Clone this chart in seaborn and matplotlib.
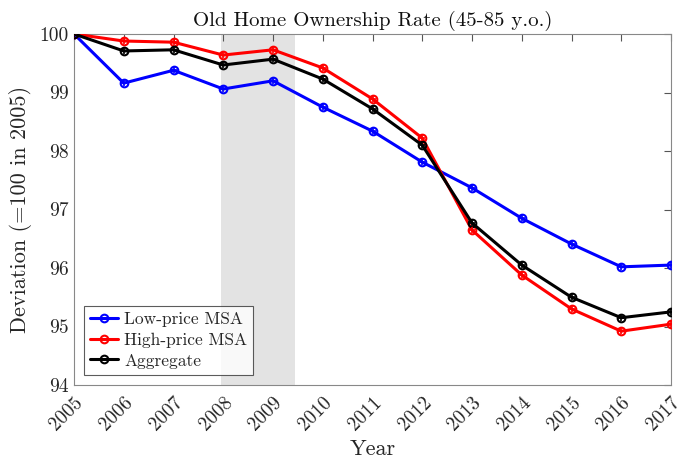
import numpy as np
import pandas as pd
import matplotlib
matplotlib.use("Agg")
import matplotlib.pyplot as plt
import seaborn as sns

years = [2005, 2006, 2007, 2008, 2009, 2010, 2011, 2012, 2013, 2014, 2015, 2016, 2017]
low_price = [100.0, 99.16, 99.38, 99.06, 99.20, 98.75, 98.34, 97.81, 97.37, 96.85, 96.41, 96.02, 96.05]
high_price = [100.0, 99.88, 99.86, 99.64, 99.73, 99.42, 98.89, 98.22, 96.65, 95.88, 95.30, 94.92, 95.04]
aggregate = [100.0, 99.71, 99.73, 99.47, 99.57, 99.23, 98.72, 98.10, 96.77, 96.05, 95.50, 95.15, 95.25]
series_names = ["Low-price MSA", "High-price MSA", "Aggregate"]
series_colors = ["#0000ff", "#ff0000", "#000000"]
recession = [2007.95, 2009.45]

sns.set_style("white")
plt.rcParams.update({
    "font.family": ["cmr10", "DejaVu Serif"],
    "mathtext.fontset": "cm",
    "axes.formatter.use_mathtext": True,
    "axes.unicode_minus": False,
})

fig = plt.figure(figsize=(6.8, 4.59), dpi=100)
ax = fig.add_axes([74/680, 1-385/459, (671-74)/680, (385-34)/459])

ax.axvspan(recession[0], recession[1], color="#e3e3e3", lw=0, zorder=0)

for name, vals, col in zip(series_names, [low_price, high_price, aggregate], series_colors):
    df = pd.DataFrame({"Year": years, "Value": vals})
    sns.lineplot(data=df, x="Year", y="Value", ax=ax, color=col, lw=2.2,
                 marker="o", markersize=5.5, markerfacecolor="none",
                 markeredgecolor=col, markeredgewidth=1.5, label=name, zorder=3)
    sns.scatterplot(data=df, x="Year", y="Value", ax=ax, color=col, marker="+",
                    s=22, linewidth=1.2, zorder=4, legend=False)

ax.set_xlim(2005, 2017)
ax.set_ylim(94, 100)
ax.set_xticks(years)
ax.set_xticklabels([str(y) for y in years], rotation=45, fontsize=14,
                   ha="right", va="top", rotation_mode="anchor")
ax.set_yticks([94, 95, 96, 97, 98, 99, 100])
ax.set_yticklabels(["94", "95", "96", "97", "98", "99", "100"], fontsize=14)
ax.tick_params(direction="in", length=5, width=0.8, color="#555555",
               top=True, right=True, labelcolor="#262626", pad=4)
ax.tick_params(axis="x", pad=6)
for s in ax.spines.values():
    s.set_color("#888888")
    s.set_linewidth(0.8)

ax.set_title("Old Home Ownership Rate (45-85 y.o.)", fontsize=15, color="#111111", pad=6)
ax.set_xlabel("Year", fontsize=16, color="#262626", labelpad=4)
ax.set_ylabel("Deviation (=100 in 2005)", fontsize=16, color="#262626", labelpad=5)

leg = ax.legend(loc="lower left", fontsize=12.5, frameon=True, fancybox=False,
                borderaxespad=0.6, handlelength=1.6, handletextpad=0.35,
                borderpad=0.35, labelspacing=0.3)
leg.get_frame().set_edgecolor("#333333")
leg.get_frame().set_linewidth(0.8)

fig.savefig("out.png", dpi=100)
